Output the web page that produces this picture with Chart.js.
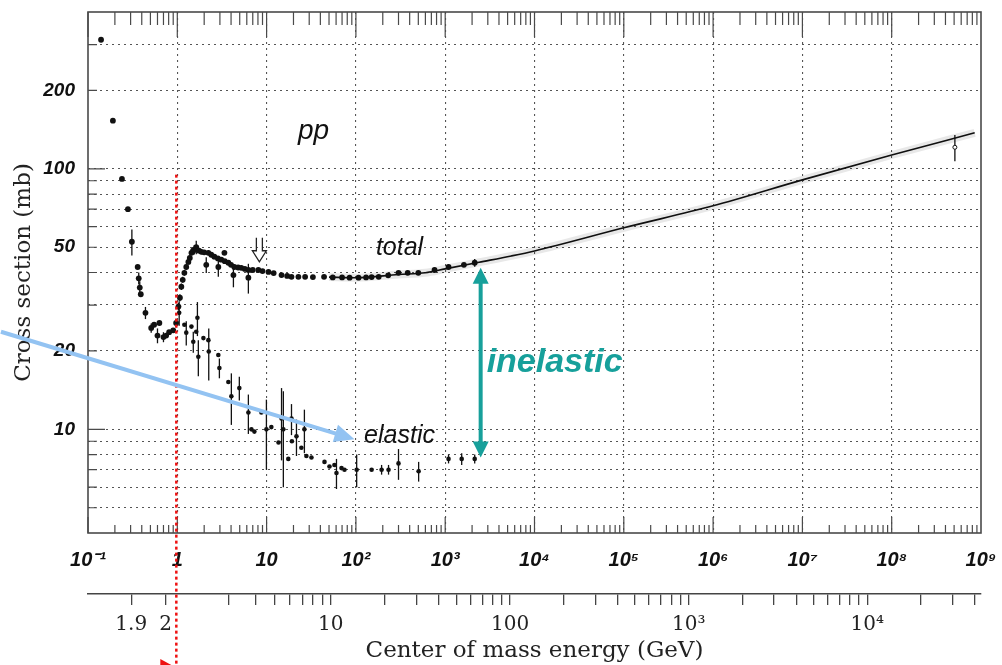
<!DOCTYPE html>
<html>
<head>
<meta charset="utf-8">
<script src="https://cdn.jsdelivr.net/npm/chart.js@4.4.0/dist/chart.umd.min.js"></script>
<style>
  html, body { margin: 0; padding: 0; background: #fff; }
</style>
</head>
<body>
<canvas id="chart-canvas" width="1002" height="665"></canvas>
<script>
// pp cross sections vs beam momentum, sqrt(s) scale underneath

// tick values / labels
const decadeTicks = [0.1, 1, 10, 1e2, 1e3, 1e4, 1e5, 1e6, 1e7, 1e8, 1e9];
const decadeLabels = ["10⁻¹", "1", "10", "10²", "10³", "10⁴", "10⁵", "10⁶", "10⁷", "10⁸", "10⁹"];
const yGrid = [5, 6, 7, 8, 9, 10, 20, 30, 40, 50, 60, 70, 80, 90, 100, 200, 300];
const yLabels = [10, 20, 50, 100, 200];
const cmsTicks = [1.9, 2, 3, 4, 5, 6, 7, 8, 9, 10, 20, 30, 40, 50, 60, 70, 80, 90, 100,
  200, 300, 400, 500, 600, 700, 800, 900, 1000, 2000, 3000, 4000, 5000, 6000, 7000, 8000, 9000,
  10000, 20000, 30000, 40000];
const cmsLabels = ["1.9", "2", "", "", "", "", "", "", "", "10", "", "", "", "", "", "", "", "", "100",
  "", "", "", "", "", "", "", "", "10³", "", "", "", "", "", "", "", "",
  "10⁴", "", "", ""];

// total cross section (p_lab GeV/c, mb, error mb)
const totalP = [0.14, 0.19, 0.24, 0.28, 0.31, 0.36, 0.37, 0.38, 0.39, 0.44,
  0.51, 0.55, 0.60, 0.63, 0.70, 0.75, 0.81, 0.90, 0.97, 1.03,
  1.07, 1.11, 1.15, 1.20, 1.26, 1.33, 1.38, 1.44, 1.50, 1.55,
  1.63, 1.75, 1.86, 2.0, 2.23, 2.4, 2.6, 2.85, 3.11, 3.4,
  3.73, 4.0, 4.35, 4.8, 5.21, 5.7, 6.25, 7.0, 8.09, 9.0,
  10.5, 12, 14.7, 17, 19, 22.7, 27, 33, 44, 55,
  70, 85, 107, 130, 150, 180, 230, 300, 380, 500,
  760, 1090, 1620, 2140,
  2.11, 2.88, 3.37, 4.25, 6.25];
const totalSigma = [313, 153, 91.5, 70, 52.5, 42, 38, 35, 33, 28,
  24.5, 25.2, 22.9, 25.6, 22.6, 22.9, 23.6, 24, 25.6, 29.6,
  32, 35.3, 37.5, 39.9, 42, 43.9, 45.5, 47.6, 48.5, 48.9,
  50, 48.5, 48, 47.8, 47.6, 46.8, 46, 45.3, 44.8, 44.2,
  43.6, 42.8, 42, 41.8, 41.7, 41.3, 40.9, 40.9, 40.9, 40.5,
  40.2, 39.8, 39.1, 38.8, 38.5, 38.5, 38.5, 38.4, 38.5, 38.3,
  38.3, 38.2, 38.2, 38.3, 38.4, 38.5, 39, 39.9, 39.9, 39.9,
  40.9, 42, 42.8, 43.6,
  42.8, 42, 47.6, 39.1, 38.2];
const totalErr = [6, 0, 0, 0, 6, 0, 2, 2, 0, 1.5,
  1, 0, 1.5, 0, 1, 0, 0, 0, 1, 1,
  1, 1, 1, 1, 1, 1, 1, 1, 1.5, 2,
  3, 1, 1, 1, 1, 1, 1, 0.8, 0.8, 0.8,
  0.8, 0.8, 0.8, 0.8, 0.8, 0.5, 0.5, 0.5, 0.5, 0.5,
  0.5, 0.5, 0.5, 0.5, 0.5, 0.5, 0.5, 0.5, 0.5, 0.5,
  0.5, 0.5, 0.8, 0.5, 0.5, 0.5, 0.6, 0.6, 0.6, 0.6,
  0.6, 0.6, 0.6, 1.5,
  3, 3.5, 0, 4, 5];

// elastic cross section
const elasticP = [1.05, 1.20, 1.26, 1.44, 1.51, 1.63, 1.68, 1.72, 1.96, 2.23,
  2.25, 2.88, 2.96, 3.73, 4.03, 4.95, 6.25, 6.76, 7.3, 8.74,
  9.95, 11.3, 13.6, 14.7, 15.4, 17.5, 19.0, 19.2, 21.6, 24.5,
  26.5, 27.9, 31.8, 44.5, 50.6, 57.5, 60.6, 69, 74.5, 102,
  150, 194, 232, 300, 504, 1090, 1530, 2140];
const elasticSigma = [28, 25.2, 23.5, 24.8, 21.7, 23.7, 26.8, 19, 22.4, 22,
  19.9, 19.3, 17.2, 15.2, 13.4, 14.4, 11.6, 10, 9.8, 11.6,
  10.0, 10.2, 8.9, 11, 10, 7.7, 11, 9, 9.4, 8.5,
  10, 7.9, 7.8, 7.5, 7.2, 7.3, 6.8, 7.1, 7.0, 7.0,
  7.0, 7.0, 7.0, 7.4, 6.9, 7.7, 7.7, 7.7];
const elasticErr = [3, 0, 2.5, 0, 2, 0, 4, 3, 0, 0,
  4.5, 0, 1.5, 0, 3, 1.5, 2, 0, 0, 0,
  3, 0, 0, 3.4, 4, 0, 1.5, 0, 1.5, 0,
  1.9, 0, 0, 0, 0, 0, 0.9, 0, 0, 1.0,
  0, 0.3, 0.3, 1.0, 0.6, 0.3, 0.4, 0.3];

// fit through total cross section, and the cosmic ray point
const fitP = [50, 100, 300, 600, 1000, 2400, 5500, 1e4, 1e5, 1e6, 1e7, 1e8, 8.5e8];
const fitSigma = [38.4, 38.2, 39.3, 39.9, 41.3, 43.8, 46.3, 48.4, 59.4, 72.1, 90.7, 113, 137.5];
const cosmicP = [5.1e8];
const cosmicSigma = [121];
const cosmicErr = [14];

function zip(xs, ys) {
  return xs.map(function (v, i) { return { x: v, y: ys[i] }; });
}

// p_lab (GeV/c) for a given centre of mass energy (GeV)
function plabFromCms(w) {
  let m = 0.938;
  let e = (w * w - 2 * m * m) / (2 * m);
  return Math.sqrt(e * e - m * m);
}

// no extra label padding, so the plot box lands where the original is
function noPad(s) {
  s.paddingLeft = 0;
  s.paddingRight = 0;
  s.paddingTop = 0;
  s.paddingBottom = 0;
}

let frameTicks = {
  id: "frameTicks",
  beforeDatasetsDraw(chart) {
    let { ctx, chartArea: a, scales: { x, y } } = chart;
    ctx.save();
    ctx.strokeStyle = "#4a4a4a";
    ctx.lineWidth = 1.2;
    ctx.beginPath();
    for (let d = -1; d < 9; d++) {
      for (let k = 1; k < 10; k++) {
        let px = x.getPixelForValue(k * Math.pow(10, d));
        let major = k === 1;
        ctx.moveTo(px, a.bottom);
        ctx.lineTo(px, a.bottom - (major ? 16 : 8));
        ctx.moveTo(px, a.top);
        ctx.lineTo(px, a.top + (major ? 25 : 13));
      }
    }
    yGrid.forEach(function (v) {
      let py = y.getPixelForValue(v);
      let major = v === 10 || v === 100;
      ctx.moveTo(a.left, py);
      ctx.lineTo(a.left + (major ? 17 : 9), py);
    });
    ctx.stroke();
    ctx.lineWidth = 1.6;
    ctx.strokeRect(a.left, a.top, a.right - a.left, a.bottom - a.top);
    ctx.restore();
  },
};

let errorBars = {
  id: "errorBars",
  beforeDatasetsDraw(chart) {
    let { ctx, scales: { x, y } } = chart;
    ctx.save();
    ctx.strokeStyle = "#111";
    ctx.lineWidth = 1.3;
    chart.data.datasets.forEach(function (ds) {
      if (!ds.errors) return;
      ds.data.forEach(function (pt, i) {
        let e = ds.errors[i];
        if (!e) return;
        let px = x.getPixelForValue(pt.x);
        ctx.beginPath();
        ctx.moveTo(px, y.getPixelForValue(pt.y + e));
        ctx.lineTo(px, y.getPixelForValue(pt.y - e));
        ctx.stroke();
      });
    });
    ctx.restore();
  },
};

function arrowHead(ctx, x0, y0, x1, y1, len, half) {
  let a = Math.atan2(y1 - y0, x1 - x0);
  ctx.beginPath();
  ctx.moveTo(x1, y1);
  ctx.lineTo(x1 - len * Math.cos(a) + half * Math.sin(a), y1 - len * Math.sin(a) - half * Math.cos(a));
  ctx.lineTo(x1 - len * Math.cos(a) - half * Math.sin(a), y1 - len * Math.sin(a) + half * Math.cos(a));
  ctx.closePath();
  ctx.fill();
}

let notes = {
  id: "notes",
  afterDraw(chart) {
    let { ctx, scales: { x, y } } = chart;
    let px = function (v) { return x.getPixelForValue(v); };
    let py = function (v) { return y.getPixelForValue(v); };
    ctx.save();

    // red dotted marker line
    let rx = px(0.975);
    ctx.strokeStyle = "#ee1111";
    ctx.lineWidth = 2.5;
    ctx.setLineDash([3, 3]);
    ctx.beginPath();
    ctx.moveTo(rx, py(95));
    ctx.lineTo(rx, chart.height);
    ctx.stroke();
    ctx.setLineDash([]);
    ctx.fillStyle = "#ee1111";
    ctx.beginPath();
    ctx.moveTo(rx - 16, chart.height - 6);
    ctx.lineTo(rx - 5, chart.height);
    ctx.lineTo(rx - 16, chart.height);
    ctx.fill();

    // labels
    ctx.fillStyle = "#111";
    ctx.textAlign = "center";
    ctx.textBaseline = "middle";
    ctx.font = 'italic 28px "Liberation Sans"';
    ctx.fillText("pp", px(33.5), py(139));
    ctx.font = 'italic 25px "Liberation Sans"';
    ctx.fillText("total", px(308), py(49.8));
    ctx.fillText("elastic", px(308), py(9.4));

    // open double arrow
    let cx = px(8.3), cy = py(48.9);
    ctx.strokeStyle = "#222";
    ctx.lineWidth = 1.3;
    ctx.beginPath();
    ctx.moveTo(cx - 3, cy - 12);
    ctx.lineTo(cx - 3, cy + 1);
    ctx.lineTo(cx - 7, cy + 1);
    ctx.lineTo(cx, cy + 12);
    ctx.lineTo(cx + 7, cy + 1);
    ctx.lineTo(cx + 3, cy + 1);
    ctx.lineTo(cx + 3, cy - 12);
    ctx.stroke();

    // blue arrow
    let bx0 = px(0.0106), by0 = py(23.7), bx1 = px(96.5), by1 = py(9.16);
    let ba = Math.atan2(by1 - by0, bx1 - bx0);
    ctx.strokeStyle = "#93c3f2";
    ctx.fillStyle = "#93c3f2";
    ctx.lineWidth = 4;
    ctx.beginPath();
    ctx.moveTo(bx0, by0);
    ctx.lineTo(bx1 - 16 * Math.cos(ba), by1 - 16 * Math.sin(ba));
    ctx.stroke();
    arrowHead(ctx, bx0, by0, bx1, by1, 20, 9);

    // teal double arrow + inelastic
    let tx = px(2495), ty0 = py(41.7), ty1 = py(7.8);
    ctx.strokeStyle = "#17a09b";
    ctx.fillStyle = "#17a09b";
    ctx.lineWidth = 4;
    ctx.beginPath();
    ctx.moveTo(tx, ty0 + 12);
    ctx.lineTo(tx, ty1 - 12);
    ctx.stroke();
    arrowHead(ctx, tx, ty1, tx, ty0, 16, 8);
    arrowHead(ctx, tx, ty0, tx, ty1, 16, 8);
    ctx.font = 'bold italic 34px "Liberation Sans"';
    ctx.textAlign = "left";
    ctx.fillText("inelastic", px(2911), py(18));

    ctx.restore();
  },
};

let chartCtx = document.getElementById("chart-canvas").getContext("2d");

let chart1 = new Chart(chartCtx, {
  type: "scatter",
  data: {
    datasets: [
      {
        label: "fit band",
        data: zip(fitP, fitSigma),
        showLine: true,
        borderColor: "rgba(0,0,0,0.09)",
        borderWidth: 8,
        pointRadius: 0,
        cubicInterpolationMode: "monotone",
      },
      {
        label: "fit",
        data: zip(fitP, fitSigma),
        showLine: true,
        borderColor: "#111",
        borderWidth: 1.6,
        pointRadius: 0,
        cubicInterpolationMode: "monotone",
      },
      {
        label: "total",
        data: zip(totalP, totalSigma),
        errors: totalErr,
        pointRadius: 2.9,
        pointBackgroundColor: "#111",
        pointBorderWidth: 0,
      },
      {
        label: "elastic",
        data: zip(elasticP, elasticSigma),
        errors: elasticErr,
        pointRadius: 2.3,
        pointBackgroundColor: "#111",
        pointBorderWidth: 0,
      },
      {
        label: "cosmic",
        data: zip(cosmicP, cosmicSigma),
        errors: cosmicErr,
        pointRadius: 2,
        pointBackgroundColor: "#fff",
        pointBorderColor: "#111",
        pointBorderWidth: 1,
      },
    ],
  },
  options: {
    responsive: false,
    animation: false,
    events: [],
    layout: { padding: { left: 0, right: 21, top: 12, bottom: 0 } },
    plugins: { legend: { display: false }, tooltip: { enabled: false } },
    scales: {
      x: {
        type: "logarithmic",
        position: "bottom",
        weight: 0,
        min: 0.1,
        max: 1e9,
        afterBuildTicks: function (s) {
          s.ticks = decadeTicks.map(function (v) { return { value: v }; });
        },
        afterFit: function (s) { s.height = 61; noPad(s); },
        ticks: {
          autoSkip: false,
          maxRotation: 0,
          padding: 15,
          color: "#111",
          font: { family: "Liberation Sans", size: 20, style: "italic", weight: "bold" },
          callback: function (v, i) { return decadeLabels[i]; },
        },
        grid: {
          drawTicks: false,
          lineWidth: 1.1,
          color: function (c) {
            return c.index === 0 || c.index === decadeTicks.length - 1 ? "rgba(0,0,0,0)" : "#555";
          },
        },
        border: { display: false, dash: [2, 4] },
      },
      x2: {
        type: "logarithmic",
        position: "bottom",
        weight: 1,
        min: 0.1,
        max: 1e9,
        afterBuildTicks: function (s) {
          s.ticks = cmsTicks.map(function (w) { return { value: plabFromCms(w) }; });
        },
        afterFit: function (s) { s.height = 71; noPad(s); },
        ticks: {
          autoSkip: false,
          maxRotation: 0,
          padding: 8,
          color: "#222",
          font: { family: "DejaVu Serif", size: 20 },
          callback: function (v, i) { return cmsLabels[i]; },
        },
        grid: { drawOnChartArea: false, drawTicks: true, tickLength: 11, color: "#444", lineWidth: 1.3 },
        border: { display: true, color: "#444", width: 1.6 },
        title: {
          display: true,
          text: "Center of mass energy (GeV)",
          color: "#222",
          font: { family: "DejaVu Serif", size: 23 },
          padding: { top: 0, bottom: 0 },
        },
      },
      y: {
        type: "logarithmic",
        min: 4,
        max: 400,
        afterBuildTicks: function (s) {
          s.ticks = yGrid.map(function (v) { return { value: v }; });
        },
        afterFit: function (s) { s.width = 88; noPad(s); },
        ticks: {
          autoSkip: false,
          padding: 13,
          color: "#111",
          font: { family: "Liberation Sans", size: 19, style: "italic", weight: "bold" },
          callback: function (v) { return yLabels.includes(v) ? String(v) : ""; },
        },
        grid: { drawTicks: false, lineWidth: 1.1, color: "#555" },
        border: { display: false, dash: [2, 4] },
        title: {
          display: true,
          text: "Cross section (mb)",
          color: "#222",
          font: { family: "DejaVu Serif", size: 23 },
          padding: { top: 10, bottom: 0 },
        },
      },
    },
  },
  plugins: [frameTicks, errorBars, notes],
});
</script>
</body>
</html>
